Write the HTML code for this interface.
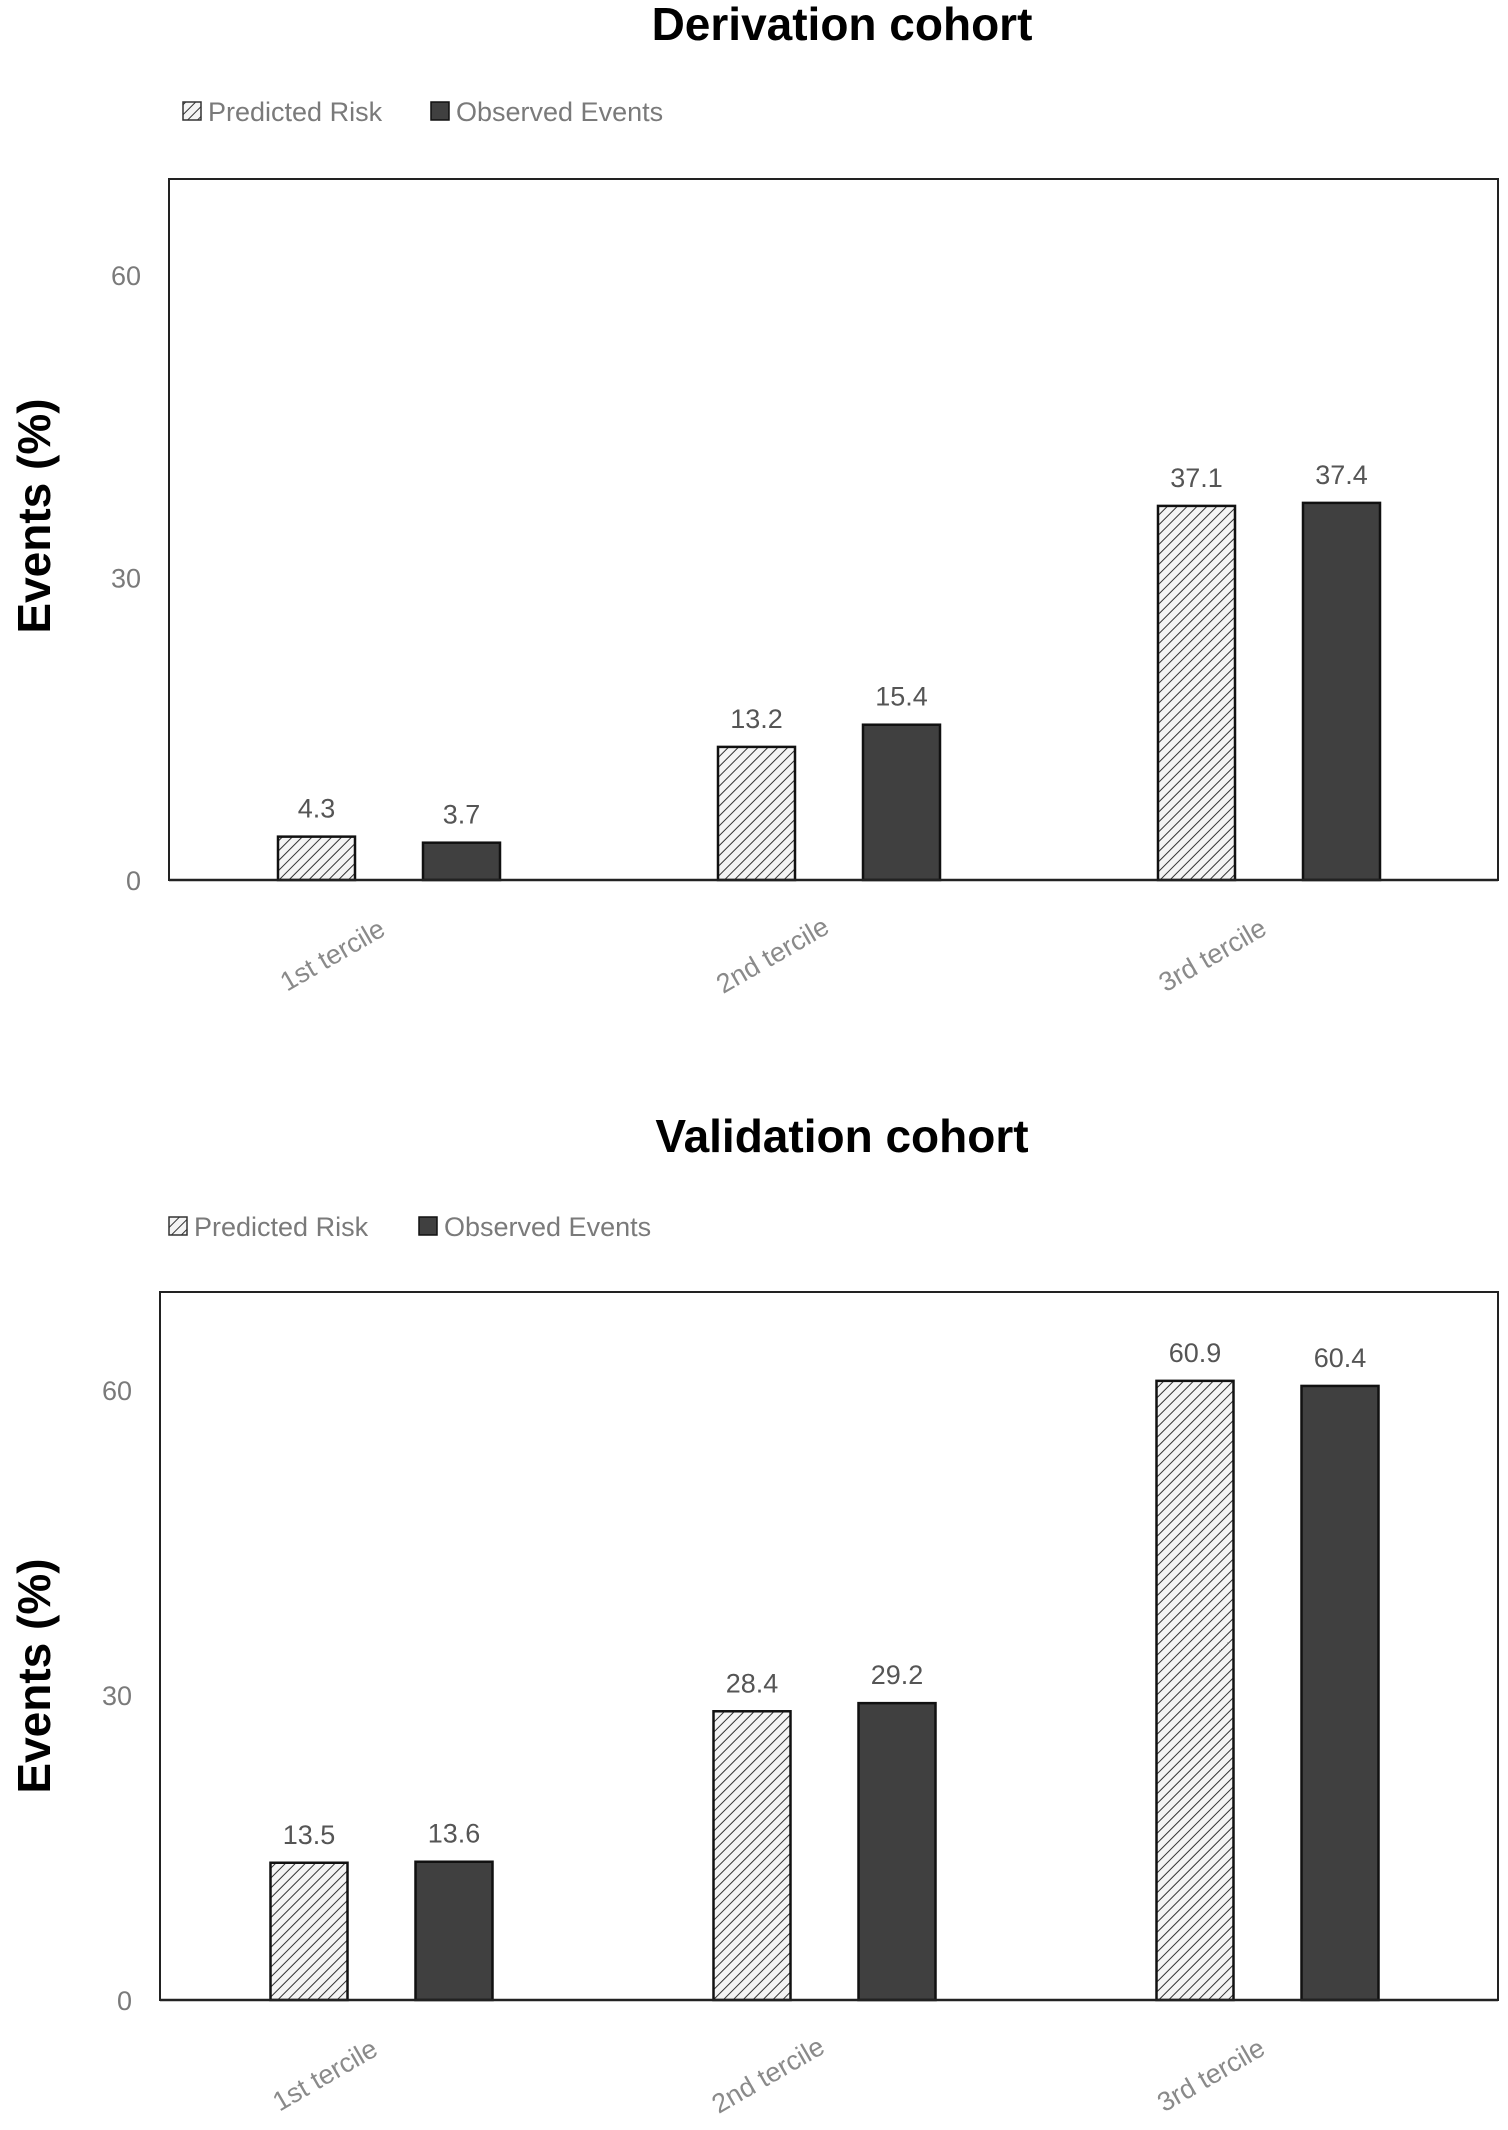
<!DOCTYPE html>
<html><head><meta charset="utf-8"><style>
html,body{margin:0;padding:0;background:#fff;}
svg{display:block;}
text{font-family:"Liberation Sans",sans-serif;}
</style></head><body>
<svg id="chart" width="1508" height="2130" viewBox="0 0 1508 2130" xmlns="http://www.w3.org/2000/svg">
<defs>
<pattern id="hatch" patternUnits="userSpaceOnUse" width="7" height="7" patternTransform="rotate(45)">
<rect width="7" height="7" fill="#f4f4f4"/>
<line x1="0" y1="0" x2="0" y2="7" stroke="#333" stroke-width="2"/>
</pattern>
</defs>
</svg>
<script>
const categories = ["1st tercile", "2nd  tercile", "3rd tercile"];
const derivPredicted = [4.3, 13.2, 37.1];
const derivObserved = [3.7, 15.4, 37.4];
const validPredicted = [13.5, 28.4, 60.9];
const validObserved = [13.6, 29.2, 60.4];
const yTicks = [0, 30, 60];
const seriesNames = ["Predicted Risk", "Observed Events"];
const titles = ["Derivation cohort", "Validation cohort"];

const svg = document.getElementById('chart');
const NS = 'http://www.w3.org/2000/svg';
function mk(tag, attrs, parent) {
  const e = document.createElementNS(NS, tag);
  for (const k in attrs) e.setAttribute(k, attrs[k]);
  (parent || svg).appendChild(e);
  return e;
}

function drawChart(cfg, title, pred, obs, prefix) {
  const g = mk('g', {});
  
  
  const yScale = v => cfg.y0 + (cfg.y60 - cfg.y0) * v / 60;
  const bandW = (cfg.bandRight - cfg.left) / categories.length;
  const xCenter = i => cfg.left + bandW * (i + 0.5);

  const t = mk('text', {x: 842, y: cfg.titleY, 'text-anchor': 'middle', 'font-size': 46, 'font-weight': 'bold', fill: '#000'}, g);
  t.textContent = title;
  
  

  const lg = mk('g', {}, g);
  
  
  const e1 = mk('g', {}, lg);
  
  
  mk('rect', {x: cfg.legX, y: cfg.legY - 10, width: 18, height: 18, fill: 'url(#hatch)', stroke: '#333', 'stroke-width': 1.5}, e1);
  const lt1 = mk('text', {x: cfg.legX + 25, y: cfg.legY + 9, 'font-size': 27, fill: '#7a7a7a'}, e1);
  lt1.textContent = seriesNames[0];
  const e2 = mk('g', {}, lg);
  
  
  mk('rect', {x: cfg.legX2, y: cfg.legY - 10, width: 18, height: 18, fill: '#404040', stroke: '#111', 'stroke-width': 1.5}, e2);
  const lt2 = mk('text', {x: cfg.legX2 + 25, y: cfg.legY + 9, 'font-size': 27, fill: '#7a7a7a'}, e2);
  lt2.textContent = seriesNames[1];

  const fr = mk('rect', {x: cfg.left, y: cfg.top, width: cfg.right - cfg.left, height: yScale(0) - cfg.top, fill: 'none', stroke: '#222', 'stroke-width': 2}, g);
  
  

  yTicks.forEach(v => {
    const tt = mk('text', {x: cfg.left - 28, y: yScale(v) + 10, 'text-anchor': 'end', 'font-size': 27, fill: '#7a7a7a'}, g);
    tt.textContent = v;
    
    
  });
  const yt = mk('text', {x: 0, y: 0, 'text-anchor': 'middle', 'font-size': 46, 'font-weight': 'bold', fill: '#000', transform: 'translate(50,' + cfg.yTitleY + ') rotate(-90)'}, g);
  yt.textContent = 'Events (%)';
  
  

  const bw = 77, off = 72.5;
  categories.forEach((c, i) => {
    const cx = xCenter(i);
    [[pred[i], 'url(#hatch)', -off, 'predicted'], [obs[i], '#404040', off, 'observed']].forEach(s => {
      const v = s[0], y = yScale(v), x = cx + s[2] - bw / 2;
      const r = mk('rect', {x: x, y: y, width: bw, height: yScale(0) - y, fill: s[1], stroke: '#111', 'stroke-width': 2.5}, g);
      
      
      const lb = mk('text', {x: cx + s[2], y: y - 19, 'text-anchor': 'middle', 'font-size': 27, fill: '#555'}, g);
      lb.textContent = v.toFixed(1);
      
      
    });
    const xl = mk('text', {x: 0, y: 0, 'text-anchor': 'middle', 'font-size': 27, fill: '#8a8a8a', transform: 'translate(' + (cx - 52) + ',' + (yScale(0) + 83) + ') rotate(-30)'}, g);
    xl.textContent = c;
    
    
  });
  mk('line', {x1: cfg.left, x2: cfg.right, y1: yScale(0), y2: yScale(0), stroke: '#222', 'stroke-width': 2.5}, g);
}

drawChart({titleY: 40, legX: 183, legX2: 431, legY: 112, left: 169, right: 1498, bandRight: 1489, top: 179, y0: 880, y60: 275, yTitleY: 516}, titles[0], derivPredicted, derivObserved, 'derivation');
drawChart({titleY: 1152, legX: 169, legX2: 419, legY: 1227, left: 160, right: 1498, bandRight: 1489, top: 1292, y0: 2000, y60: 1390, yTitleY: 1676}, titles[1], validPredicted, validObserved, 'validation');
</script>
</body></html>
